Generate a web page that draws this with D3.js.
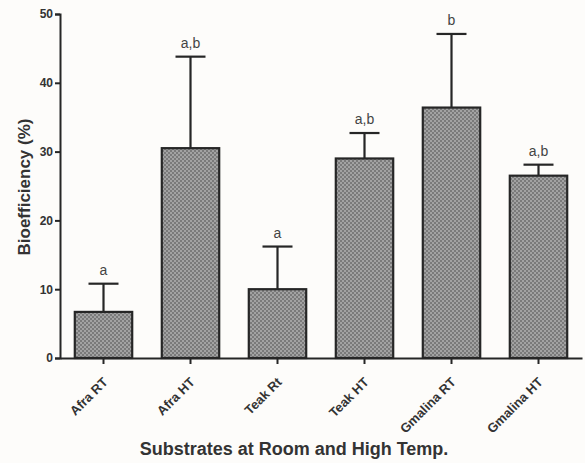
<!DOCTYPE html>
<html>
<head>
<meta charset="utf-8">
<script src="https://cdn.jsdelivr.net/npm/d3@7"></script>
<style>
  html, body { margin: 0; padding: 0; background: #fdfcfa; }
  svg { display: block; }
  text { font-family: "Liberation Sans", Arial, sans-serif; }
</style>
</head>
<body>
<svg id="chart" width="585" height="463"></svg>
<script>
// Bioefficiency per substrate (mean, upper error bar, significance letters)
const categories = ["Afra RT", "Afra HT", "Teak Rt", "Teak HT", "Gmalina RT", "Gmalina HT"];
const means      = [6.7, 30.5, 10.0, 29.0, 36.4, 26.5];
const errorTops  = [10.8, 43.8, 16.2, 32.7, 47.1, 28.1];
const letters    = ["a", "a,b", "a", "a,b", "b", "a,b"];
const yTicks     = [0, 10, 20, 30, 40, 50];

const svg = d3.select("#chart");
const ink = "#262626";

const x = d3.scaleBand().domain(categories).range([60, 582]).paddingInner(0.34).paddingOuter(0.17);
const y = d3.scaleLinear().domain([0, 50]).range([358, 14]);

// dotted grey fill used by the bars
const defs = svg.append("defs");
const pat = defs.append("pattern")
  .attr("id", "dots").attr("patternUnits", "userSpaceOnUse")
  .attr("width", 4).attr("height", 4);
pat.append("rect").attr("width", 4).attr("height", 4).attr("fill", "#a2a2a2");
pat.append("rect").attr("x", 0).attr("y", 0).attr("width", 2).attr("height", 2).attr("fill", "#7a7a7a");
pat.append("rect").attr("x", 2).attr("y", 2).attr("width", 2).attr("height", 2).attr("fill", "#7a7a7a");

const data = categories.map((c, i) => ({ c, m: means[i], e: errorTops[i], l: letters[i] }));

// error bars (drawn first so the bar outline sits on top)
const eb = svg.append("g").attr("stroke", ink).attr("stroke-width", 2.2);
data.forEach(d => {
  const cx = x(d.c) + x.bandwidth() / 2;
  eb.append("line").attr("x1", cx).attr("x2", cx).attr("y1", y(d.m)).attr("y2", y(d.e));
  eb.append("line").attr("x1", cx - 15).attr("x2", cx + 15).attr("y1", y(d.e)).attr("y2", y(d.e));
});

// bars
svg.append("g").selectAll("rect").data(data).join("rect")
  .attr("x", d => x(d.c))
  .attr("y", d => y(d.m))
  .attr("width", x.bandwidth())
  .attr("height", d => y(0) - y(d.m))
  .attr("fill", "url(#dots)")
  .attr("stroke", ink)
  .attr("stroke-width", 2.2);

// significance letters
svg.append("g").selectAll("text").data(data).join("text")
  .attr("x", d => x(d.c) + x.bandwidth() / 2)
  .attr("y", d => y(d.e) - 9)
  .attr("text-anchor", "middle")
  .attr("font-size", 14)
  .attr("fill", "#444")
  .text(d => d.l);

// y axis
const yAxis = svg.append("g").attr("transform", "translate(60,0)")
  .call(d3.axisLeft(y).tickValues(yTicks).tickSize(5).tickPadding(2));
yAxis.select(".domain").attr("stroke", ink).attr("stroke-width", 2);
yAxis.selectAll(".tick line").attr("stroke", ink).attr("stroke-width", 2);
yAxis.selectAll(".tick text").attr("font-size", 12).attr("font-weight", "bold")
  .attr("fill", "#333").attr("font-family", "Liberation Sans, Arial, sans-serif");

// x axis
const xAxis = svg.append("g").attr("transform", `translate(0,${y(0)})`)
  .call(d3.axisBottom(x).tickSize(6).tickSizeOuter(0));
xAxis.select(".domain").attr("stroke", ink).attr("stroke-width", 2);
xAxis.selectAll(".tick line").attr("stroke", ink).attr("stroke-width", 2);
xAxis.selectAll(".tick text")
  .attr("font-size", 13).attr("font-weight", "bold").attr("fill", "#333")
  .attr("font-family", "Liberation Sans, Arial, sans-serif")
  .attr("text-anchor", "end")
  .attr("x", 0).attr("y", 0).attr("dy", 0)
  .attr("transform", "translate(5,25) rotate(-45)");

// axis titles
svg.append("text")
  .attr("transform", "translate(30,187) rotate(-90)")
  .attr("text-anchor", "middle")
  .attr("font-size", 17).attr("font-weight", "bold").attr("fill", "#333")
  .text("Bioefficiency (%)");

svg.append("text")
  .attr("x", 294).attr("y", 455)
  .attr("text-anchor", "middle")
  .attr("font-size", 18).attr("font-weight", "bold").attr("fill", "#333")
  .text("Substrates at Room and High Temp.");
</script>
</body>
</html>
